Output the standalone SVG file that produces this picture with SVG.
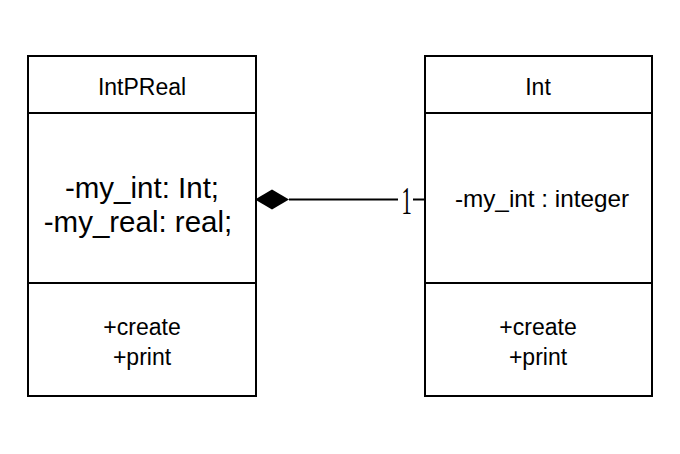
<svg xmlns="http://www.w3.org/2000/svg" width="680" height="454" viewBox="0 0 680 454">
  <style>
    .box { fill: #ffffff; stroke: #000000; stroke-width: 2; }
    .sep { stroke: #000000; stroke-width: 2; }
    .t { font-family: "Liberation Sans", Arial, sans-serif; fill: #000000; text-anchor: middle; font-size: 23px; }
    .big { font-size: 29.5px; }
    .mid { font-size: 24.3px; }
    .conn { stroke: #000000; stroke-width: 2; fill: none; }
  </style>
  <rect width="680" height="454" fill="#ffffff"/>

  <!-- class IntPReal -->
  <g id="IntPReal">
    <rect class="box" x="28" y="56" width="228" height="340"/>
    <line class="sep" x1="28" y1="113" x2="256" y2="113"/>
    <line class="sep" x1="28" y1="283" x2="256" y2="283"/>
    <text class="t" x="142" y="95">IntPReal</text>
    <text class="t big" x="142" y="198">-my_int: Int;</text>
    <text class="t big" x="138" y="232">-my_real: real;</text>
    <text class="t" x="142" y="335">+create</text>
    <text class="t" x="142" y="365">+print</text>
  </g>

  <!-- class Int -->
  <g id="Int">
    <rect class="box" x="425" y="56" width="227" height="340"/>
    <line class="sep" x1="425" y1="113" x2="652" y2="113"/>
    <line class="sep" x1="425" y1="283" x2="652" y2="283"/>
    <text class="t" x="538" y="95">Int</text>
    <text class="t mid" x="542" y="207">-my_int : integer</text>
    <text class="t" x="538" y="335">+create</text>
    <text class="t" x="538" y="365">+print</text>
  </g>

  <!-- composition: IntPReal owns one Int -->
  <g id="connectors">
    <polygon points="255,199.5 272,189.5 289,199.5 272,209.5" fill="#000000"/>
    <line class="conn" x1="289" y1="199.5" x2="398" y2="199.5"/>
    <line class="conn" x1="413" y1="199.5" x2="425" y2="199.5"/>
    <text transform="translate(406.5,214) scale(0.5,1)" font-family="Liberation Serif, serif" font-size="41" text-anchor="middle" fill="#000000">1</text>
  </g>
</svg>
